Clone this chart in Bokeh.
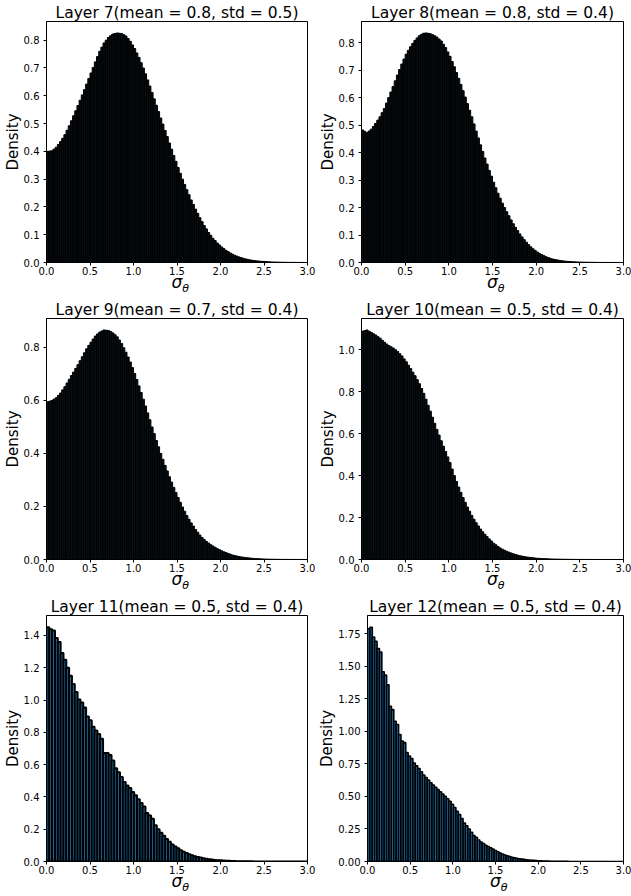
import numpy as np
from bokeh.plotting import figure
from bokeh.layouts import column, row
from bokeh.models import Range1d, FixedTicker, PrintfTickFormatter, LinearAxis
from bokeh.embed import file_html
from bokeh.resources import INLINE

FONT = "DejaVu Sans"

TITLES = [
    "Layer 7(mean = 0.8, std = 0.5)",
    "Layer 8(mean = 0.8, std = 0.4)",
    "Layer 9(mean = 0.7, std = 0.4)",
    "Layer 10(mean = 0.5, std = 0.4)",
    "Layer 11(mean = 0.5, std = 0.4)",
    "Layer 12(mean = 0.5, std = 0.4)",
]

# histogram bin widths (sigma_theta units)
BIN_W = [0.025, 0.025, 0.025, 0.025, 0.0325, 0.028]

# densities per bin, starting at sigma_theta = 0
L7 = [0.400, 0.401, 0.402, 0.408, 0.415, 0.425, 0.435, 0.447, 0.460, 0.476, 0.492, 0.510, 0.528, 0.546, 0.565, 0.584,
      0.603, 0.622, 0.642, 0.662, 0.682, 0.702, 0.722, 0.741, 0.760, 0.775, 0.790, 0.800, 0.810, 0.816, 0.822, 0.824,
      0.826, 0.825, 0.824, 0.820, 0.815, 0.806, 0.796, 0.783, 0.770, 0.754, 0.738, 0.719, 0.700, 0.679, 0.657, 0.635,
      0.612, 0.589, 0.566, 0.543, 0.520, 0.498, 0.475, 0.453, 0.430, 0.408, 0.385, 0.364, 0.342, 0.321, 0.300, 0.281,
      0.262, 0.244, 0.225, 0.209, 0.192, 0.177, 0.161, 0.147, 0.133, 0.121, 0.108, 0.098, 0.087, 0.079, 0.070, 0.063,
      0.056, 0.050, 0.044, 0.039, 0.034, 0.030, 0.026, 0.023, 0.020, 0.0175, 0.015, 0.013, 0.011, 0.0095, 0.008, 0.007,
      0.006, 0.0052, 0.0045, 0.0039, 0.0033, 0.0028, 0.0024, 0.0020, 0.0017, 0.0014, 0.0012, 0.0010, 0.0009, 0.0007,
      0.0006, 0.0005, 0.0004, 0.00035, 0.0003, 0.00025, 0.0002, 0.00015, 0.0001, 0.0001]

L8 = [0.482, 0.477, 0.472, 0.478, 0.485, 0.495, 0.506, 0.518, 0.530, 0.545, 0.560, 0.580, 0.600, 0.620, 0.640, 0.661,
      0.682, 0.702, 0.722, 0.740, 0.758, 0.772, 0.785, 0.797, 0.808, 0.817, 0.825, 0.830, 0.834, 0.835, 0.834, 0.832,
      0.829, 0.825, 0.820, 0.813, 0.806, 0.794, 0.782, 0.766, 0.750, 0.731, 0.712, 0.691, 0.670, 0.648, 0.625, 0.602,
      0.578, 0.554, 0.530, 0.504, 0.478, 0.453, 0.428, 0.404, 0.380, 0.358, 0.335, 0.314, 0.292, 0.272, 0.252, 0.234,
      0.216, 0.200, 0.185, 0.170, 0.155, 0.141, 0.128, 0.116, 0.104, 0.093, 0.083, 0.074, 0.065, 0.057, 0.050, 0.044,
      0.038, 0.033, 0.029, 0.025, 0.021, 0.018, 0.015, 0.013, 0.011, 0.0095, 0.008, 0.0068, 0.0057, 0.0048, 0.0040,
      0.0034, 0.0028, 0.0024, 0.0020, 0.0017, 0.0014, 0.0012, 0.0010, 0.00085, 0.0007, 0.0006, 0.0005, 0.0004, 0.0003,
      0.00025, 0.0002, 0.00018, 0.00015, 0.00012, 0.0001, 0.00008, 0.00007, 0.00006, 0.00005, 0.00004]

L9 = [0.595, 0.597, 0.600, 0.605, 0.610, 0.619, 0.628, 0.640, 0.652, 0.666, 0.680, 0.694, 0.707, 0.721, 0.735, 0.750,
      0.765, 0.780, 0.795, 0.808, 0.820, 0.832, 0.843, 0.851, 0.858, 0.862, 0.866, 0.865, 0.864, 0.860, 0.855, 0.848,
      0.840, 0.828, 0.815, 0.799, 0.782, 0.764, 0.745, 0.724, 0.702, 0.679, 0.655, 0.630, 0.605, 0.579, 0.553, 0.527,
      0.500, 0.475, 0.449, 0.425, 0.400, 0.378, 0.355, 0.334, 0.312, 0.292, 0.272, 0.253, 0.234, 0.216, 0.198, 0.182,
      0.166, 0.152, 0.138, 0.126, 0.113, 0.103, 0.092, 0.083, 0.075, 0.068, 0.062, 0.056, 0.051, 0.046, 0.041, 0.037,
      0.033, 0.029, 0.026, 0.023, 0.020, 0.017, 0.015, 0.013, 0.011, 0.0098, 0.0085, 0.0075, 0.0065, 0.0055, 0.0046,
      0.0039, 0.0033, 0.0028, 0.0024, 0.0020, 0.0017, 0.0014, 0.0012, 0.0010, 0.0009, 0.00075, 0.0006, 0.0005, 0.0004,
      0.00035, 0.0003, 0.00025, 0.0002, 0.00018, 0.00015, 0.00012, 0.0001, 0.00008, 0.00007, 0.00005]

L10 = [1.088, 1.091, 1.094, 1.088, 1.082, 1.076, 1.070, 1.062, 1.055, 1.045, 1.035, 1.027, 1.020, 1.014, 1.008, 1.000,
       0.992, 0.981, 0.970, 0.956, 0.942, 0.926, 0.910, 0.893, 0.876, 0.857, 0.838, 0.815, 0.792, 0.764, 0.735, 0.707,
       0.678, 0.649, 0.620, 0.593, 0.566, 0.540, 0.515, 0.489, 0.462, 0.431, 0.400, 0.372, 0.345, 0.320, 0.295, 0.272,
       0.250, 0.230, 0.210, 0.192, 0.175, 0.160, 0.145, 0.132, 0.120, 0.109, 0.098, 0.088, 0.078, 0.070, 0.062, 0.055,
       0.049, 0.044, 0.039, 0.035, 0.031, 0.027, 0.024, 0.021, 0.018, 0.016, 0.014, 0.012, 0.011, 0.0095, 0.008, 0.007,
       0.006, 0.0053, 0.0046, 0.0040, 0.0035, 0.0031, 0.0027, 0.0023, 0.0020, 0.0017, 0.0015, 0.0013, 0.0011, 0.0009,
       0.0008, 0.0007, 0.0006, 0.0005, 0.00045, 0.0004, 0.00033, 0.0003, 0.00025, 0.0002, 0.00018, 0.00015, 0.00013,
       0.00011, 0.0001, 0.00008, 0.00007, 0.00006, 0.00005, 0.000045, 0.00004, 0.000035, 0.00003, 0.000025, 0.00002,
       0.00002]

L11 = [1.451, 1.439, 1.430, 1.384, 1.360, 1.291, 1.250, 1.200, 1.150, 1.100, 1.050, 1.004, 0.985, 0.953, 0.898, 0.875,
       0.835, 0.812, 0.790, 0.760, 0.672, 0.672, 0.660, 0.625, 0.578, 0.553, 0.523, 0.492, 0.471, 0.455, 0.430, 0.410,
       0.385, 0.362, 0.340, 0.300, 0.285, 0.265, 0.225, 0.200, 0.178, 0.160, 0.140, 0.122, 0.105, 0.093, 0.082, 0.070,
       0.060, 0.052, 0.045, 0.038, 0.033, 0.028, 0.024, 0.020, 0.017, 0.014, 0.012, 0.010, 0.0085, 0.007, 0.0058,
       0.0048, 0.004, 0.0033, 0.0027, 0.0022, 0.0018, 0.0015, 0.0012, 0.001, 0.0008, 0.00065, 0.0005, 0.0004, 0.00032,
       0.00025, 0.0002, 0.00016, 0.00012, 0.0001, 0.00008, 0.00006, 0.00005, 0.00004, 0.00003, 0.00002, 0.00002,
       0.00001, 0.00001, 0.00001, 0.0]

L12 = [1.788, 1.800, 1.725, 1.692, 1.636, 1.610, 1.458, 1.433, 1.357, 1.192, 1.167, 1.078, 1.052, 0.976, 0.925, 0.913,
       0.837, 0.811, 0.791, 0.756, 0.735, 0.715, 0.690, 0.665, 0.645, 0.625, 0.605, 0.588, 0.570, 0.552, 0.535, 0.518,
       0.500, 0.482, 0.462, 0.440, 0.415, 0.385, 0.360, 0.330, 0.295, 0.275, 0.250, 0.225, 0.200, 0.185, 0.165, 0.150,
       0.138, 0.125, 0.115, 0.105, 0.095, 0.085, 0.075, 0.065, 0.058, 0.050, 0.044, 0.038, 0.033, 0.029, 0.025, 0.021,
       0.018, 0.016, 0.014, 0.012, 0.010, 0.0085, 0.0072, 0.006, 0.005, 0.0042, 0.0035, 0.0029, 0.0024, 0.002, 0.0016,
       0.0013, 0.0011, 0.0009, 0.0007, 0.0006, 0.0005, 0.0004, 0.0003, 0.00025, 0.0002, 0.00015, 0.00012, 0.0001,
       0.00008, 0.00006, 0.00005, 0.00004, 0.00003, 0.00002, 0.00002, 0.00001, 0.00001, 0.00001, 0.0, 0.0, 0.0, 0.0,
       0.0, 0.0]

DENS = [L7, L8, L9, L10, L11, L12]

X_TICKS = [0.0, 0.5, 1.0, 1.5, 2.0, 2.5, 3.0]
Y_TICKS = [
    [0.0, 0.1, 0.2, 0.3, 0.4, 0.5, 0.6, 0.7, 0.8],
    [0.0, 0.1, 0.2, 0.3, 0.4, 0.5, 0.6, 0.7, 0.8],
    [0.0, 0.2, 0.4, 0.6, 0.8],
    [0.0, 0.2, 0.4, 0.6, 0.8, 1.0],
    [0.0, 0.2, 0.4, 0.6, 0.8, 1.0, 1.2, 1.4],
    [0.0, 0.25, 0.5, 0.75, 1.0, 1.25, 1.5, 1.75],
]
Y_FMT = ["%.1f", "%.1f", "%.1f", "%.1f", "%.1f", "%.2f"]

FILLS = ["#070c11", "#070c11", "#081016", "#081016", "#1f77b4", "#1f77b4"]
EDGE_W = [1, 1, 1, 1, 2.0, 1.6]

COL_W = [315, 316]
COL_BL = [45, 45]
COL_BR = [8, 8]
ROW_H = [297, 297, 302]
ROW_BT = [21, 21, 21]
ROW_BB = [29, 29, 33]


def make(k):
    r, c = divmod(k, 2)
    vals = np.array(DENS[k], dtype=float)
    bw = BIN_W[k]
    left = np.arange(len(vals)) * bw
    ymax = vals.max() * 1.05
    p = figure(width=COL_W[c], height=ROW_H[r], output_backend="svg", toolbar_location=None,
               x_range=Range1d(0, 3), y_range=Range1d(0, ymax),
               min_border_left=COL_BL[c], min_border_right=COL_BR[c],
               min_border_top=ROW_BT[r], min_border_bottom=ROW_BB[r])
    p.quad(left=left, right=left + bw, bottom=0, top=vals,
           fill_color=FILLS[k], line_color="black", line_width=EDGE_W[k])
    p.xgrid.visible = False
    p.ygrid.visible = False
    p.background_fill_color = "white"
    p.border_fill_color = "white"
    p.outline_line_color = "black"
    p.outline_line_width = 1
    p.outline_line_alpha = 1.0

    p.title.text = TITLES[k]
    p.title.align = "center"
    p.title.text_font = FONT
    p.title.text_font_size = "15.5px"
    p.title.text_font_style = "normal"
    p.title.text_color = "black"
    p.title.standoff = 0

    for ax in (p.xaxis[0], p.yaxis[0]):
        ax.axis_line_color = "black"
        ax.major_tick_line_color = "black"
        ax.minor_tick_line_color = None
        ax.major_tick_in = 0
        ax.major_tick_out = 3
        ax.major_label_text_font = FONT
        ax.major_label_text_font_size = "10px"
        ax.major_label_text_color = "black"
        ax.axis_label_text_font = FONT
        ax.axis_label_text_color = "black"
    p.xaxis.ticker = FixedTicker(ticks=X_TICKS)
    p.xaxis.formatter = PrintfTickFormatter(format="%.1f")
    p.xaxis.major_label_standoff = 1
    p.xaxis.axis_label = "σ"
    p.xaxis.axis_label_text_font_size = "17px"
    p.xaxis.axis_label_text_font_style = "italic"
    p.xaxis.axis_label_standoff = -6

    p.yaxis.ticker = FixedTicker(ticks=Y_TICKS[k])
    p.yaxis.formatter = PrintfTickFormatter(format=Y_FMT[k])
    p.yaxis.major_label_standoff = 4
    p.yaxis.axis_label = "Density"
    p.yaxis.axis_label_text_font_size = "15px"
    p.yaxis.axis_label_text_font_style = "normal"
    p.yaxis.axis_label_standoff = -1

    # subscript theta of the x label, drawn as the label of a tick-less axis
    sub = LinearAxis(ticker=FixedTicker(ticks=[]), axis_line_color=None,
                     major_tick_line_color=None, minor_tick_line_color=None,
                     major_tick_out=0, major_tick_in=0, major_label_standoff=0,
                     major_label_text_font_size="0px",
                     axis_label="\u00a0" * 5 + "θ", axis_label_text_font=FONT,
                     axis_label_text_font_size="11px", axis_label_text_font_style="italic",
                     axis_label_text_color="black", axis_label_standoff=-13)
    p.add_layout(sub, "below")
    return p


plots = [make(k) for k in range(6)]
layout = column(row(plots[0], plots[1]), row(plots[2], plots[3]), row(plots[4], plots[5]))

open("out.html", "w").write(file_html(layout, INLINE))
